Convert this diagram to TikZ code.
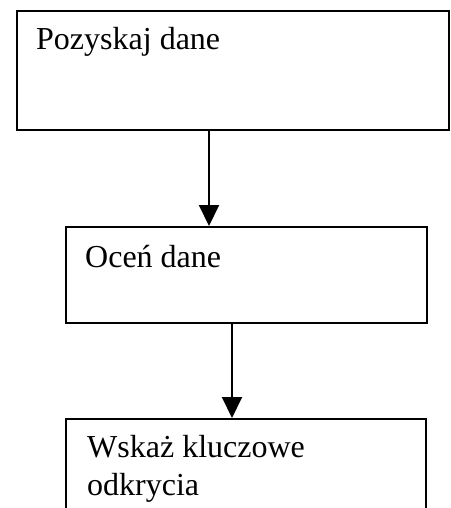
\documentclass[tikz,border=0pt]{standalone}
\usepackage{fontspec}
\setmainfont{Liberation Serif}
\usetikzlibrary{arrows.meta,calc}
\begin{document}
\begin{tikzpicture}[x=1pt,y=-1pt,
  stepbox/.style={draw=black,line width=2pt,rectangle,inner sep=0pt,anchor=north west},
  steptext/.style={anchor=base west,inner sep=0pt,font=\fontsize{32}{38}\selectfont,align=left},
  flow/.style={draw=black,line width=2pt,-{Triangle[width=20pt,length=21pt]}}]
  \useasboundingbox (0,0) rectangle (450,508);
  \clip (0,0) rectangle (450,508);
  % process boxes
  \node[stepbox,minimum width=432pt,minimum height=119pt] (b1) at (16,10) {};
  \node[stepbox,minimum width=361pt,minimum height=96pt] (b2) at (65,226) {};
  \node[stepbox,minimum width=360pt,minimum height=140pt] (b3) at (65,418) {};
  % box captions (base anchor of a two-line caption sits on its last line)
  \node[steptext] (t1) at (36,50) {Pozyskaj dane};
  \node[steptext] (t2) at (85,267) {Oceń dane};
  \node[steptext] (t3) at (87,495) {Wskaż kluczowe\\odkrycia};
  % connector positions
  \coordinate (c1) at (209,0);
  \coordinate (c2) at (232,0);
  \draw[flow] (b1.south -| c1) -- (b2.north -| c1);
  \draw[flow] (b2.south -| c2) -- (b3.north -| c2);
\end{tikzpicture}
\end{document}
